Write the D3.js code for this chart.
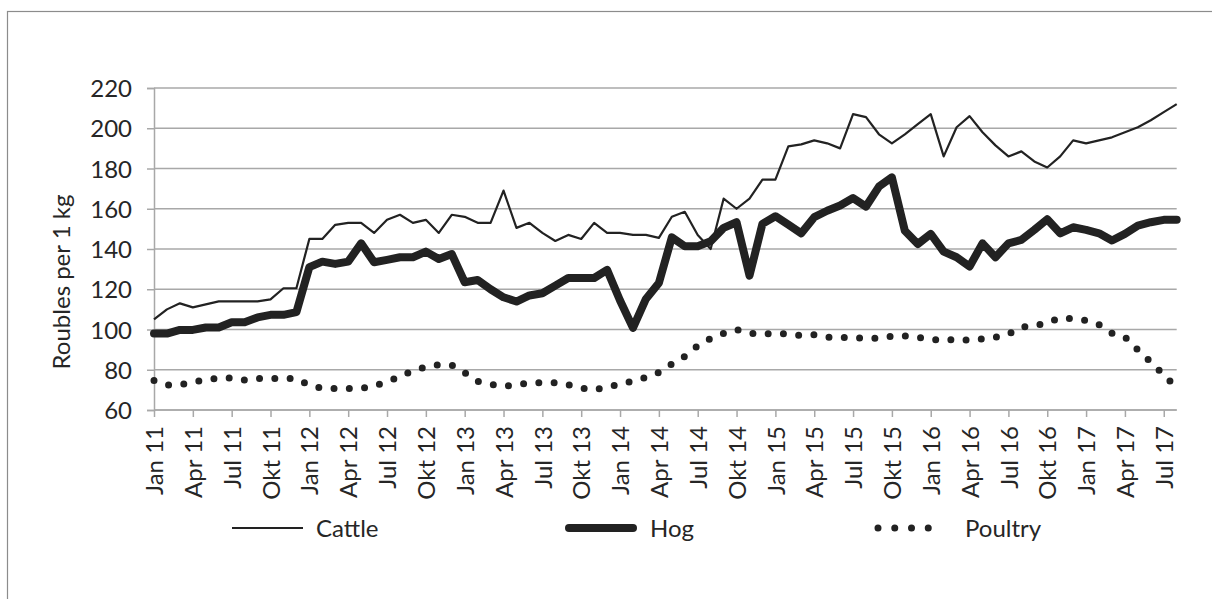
<!DOCTYPE html>
<html><head><meta charset="utf-8">
<script src="https://cdn.jsdelivr.net/npm/d3@7"></script>
<style>body{margin:0;background:#fff}svg{display:block}text{font-family:Lato,"Open Sans",sans-serif;fill:#262626}</style>
</head><body>
<svg id="c" width="1212" height="599"></svg>
<script>
const months = ["Jan","Feb","Mar","Apr","May","Jun","Jul","Aug","Sep","Okt","Nov","Dec"];
const yearsShort = ["11","12","13","14","15","16","17"];
const categories = [];
yearsShort.forEach(y => months.forEach(m => categories.push(m + " " + y)));
categories.length = 80; // Jan 11 .. Aug 17

const cattle = [105,110,113,111,112.5,114,114,114,114,115,120.5,120.5,
  145,145,152,153,153,148,154.5,157,153,154.5,148,157,
  156,153,153,169,150.5,153,148,144,147,145,153,148,
  148,147,147,145.5,156,158.5,147,140,165,160,165,174.5,
  174.5,191,192,194,192.5,190,207,205.5,197,192.5,197,202,
  207,186,200.5,206,198,191.5,186,188.5,183.5,180.5,186,194,
  192.5,194,195.5,198,200.5,204,208,212];
const hog = [98,98,99.8,99.8,101,101,103.6,103.6,106,107.3,107.3,108.6,
  131,133.7,132.6,133.7,142.8,133.4,134.6,135.9,135.9,138.7,135,137.5,
  123.5,124.6,120,116,113.9,116.9,118,121.8,125.6,125.6,125.6,129.6,
  114.4,100.8,115.2,123.1,145.8,141.4,141.4,143.8,150.5,153.3,126.8,152.5,
  156.3,152.1,147.8,155.8,159,161.6,165.3,161.1,171,175.6,149.1,142.5,
  147.5,138.7,135.9,131.3,142.8,135.9,142.8,144.5,149.5,154.8,147.8,150.8,
  149.5,147.8,144.2,147.5,151.6,153.3,154.5,154.5];
const poultry = [74.6,72.4,72.6,73.8,75,75.9,75.9,74.9,75.7,75.6,75.7,75.6,
  72.3,70.7,70.7,70.7,70.7,72,74,76.6,79.6,81.4,82.5,82.3,
  78.5,74.2,72.7,71.7,72.5,73.5,73.5,73.5,72.5,70.9,70,71.4,
  72.8,74.4,76.2,78.7,82.9,86.6,91.9,95.5,98.1,100,98.2,97.7,
  98.2,97.6,97,97.4,96.2,96,95.9,95.7,95.7,96.6,96.8,96.1,
  95.2,94.4,95.3,94.6,95.3,96.1,97.7,101.2,101.7,103.4,105.8,105.3,
  104.5,102.4,98.2,96.3,89.8,83.8,77.5,71];
const yTicks = [60,80,100,120,140,160,180,200,220];
const seriesNames = ["Cattle","Hog","Poultry"];

const svg = d3.select("#c");
const mLeft = 154, mRight = 1176.7, mTop = 88, mBottom = 410;
const x = d3.scaleLinear().domain([0, categories.length - 1]).range([mLeft, mRight]);
const y = d3.scaleLinear().domain([60, 220]).range([mBottom, mTop]);
const fs = "24px";

// outer frame
svg.append("rect").attr("x",7.5).attr("y",11.5).attr("width",1300).attr("height",700)
  .attr("fill","none").attr("stroke","#8c8c8c").attr("stroke-width",1.2);

// gridlines
svg.append("g").selectAll("line").data(yTicks).join("line")
  .attr("x1", mLeft).attr("x2", mRight).attr("y1", d => y(d)).attr("y2", d => y(d))
  .attr("stroke","#a8a8a8").attr("stroke-width",1.5);

// y axis
const yAxis = d3.axisLeft(y).tickValues(yTicks).tickSize(7).tickPadding(15);
const gy = svg.append("g").attr("transform",`translate(${mLeft},0)`).call(yAxis);
gy.select(".domain").attr("stroke","#a8a8a8").attr("stroke-width",1.5);
gy.selectAll(".tick line").attr("stroke","#a8a8a8").attr("stroke-width",1.5);
gy.selectAll(".tick text").style("font-size",fs).attr("fill","#262626").attr("dy","0.36em");

// x axis
const tickIdx = d3.range(0, categories.length, 3);
const xAxis = d3.axisBottom(x).tickValues(tickIdx).tickFormat(i => categories[i]).tickSize(7).tickPadding(10);
const gx = svg.append("g").attr("transform",`translate(0,${mBottom})`).call(xAxis);
gx.select(".domain").attr("stroke","#a8a8a8").attr("stroke-width",1.5).attr("d",`M${mLeft},0H${mRight}`);
gx.selectAll(".tick line").attr("stroke","#a8a8a8").attr("stroke-width",1.5);
gx.selectAll(".tick text").style("font-size",fs).attr("fill","#262626")
  .attr("text-anchor","end").attr("transform","rotate(-90)")
  .attr("x",-16).attr("y",0).attr("dy","0.36em");

// y title
svg.append("text").attr("transform","translate(70,282) rotate(-90)")
  .attr("text-anchor","middle").style("font-size",fs).text("Roubles per 1 kg");

const line = d3.line().defined(d => d != null).x((d,i) => x(i)).y(d => y(d));
const ink = "#222";
svg.append("path").datum(cattle).attr("d", line).attr("fill","none").attr("stroke",ink).attr("stroke-width",2.2).attr("stroke-linejoin","round");
svg.append("path").datum(hog).attr("d", line).attr("fill","none").attr("stroke",ink).attr("stroke-width",8).attr("stroke-linejoin","round").attr("stroke-linecap","round");
svg.append("path").datum(poultry).attr("d", line).attr("fill","none").attr("stroke",ink).attr("stroke-width",7)
  .attr("stroke-linecap","round").attr("stroke-dasharray","0 15.3");

// legend
const legend = [
  {name: seriesNames[0], x1: 232, x2: 303, w: 2.2, dash: null, tx: 316},
  {name: seriesNames[1], x1: 569, x2: 633, w: 8, dash: null, tx: 650, cap: "round"},
  {name: seriesNames[2], x1: 878, x2: 945, w: 7, dash: "0 16.75", tx: 965, cap: "round"}
];
const ly = 528;
legend.forEach(l => {
  const ln = svg.append("line").attr("x1",l.x1).attr("x2",l.x2).attr("y1",ly).attr("y2",ly)
    .attr("stroke",ink).attr("stroke-width",l.w);
  if (l.cap) ln.attr("stroke-linecap",l.cap);
  if (l.dash) ln.attr("stroke-dasharray",l.dash);
  svg.append("text").attr("x",l.tx).attr("y",ly).attr("dy","0.36em").style("font-size",fs).text(l.name);
});
</script>
</body></html>
